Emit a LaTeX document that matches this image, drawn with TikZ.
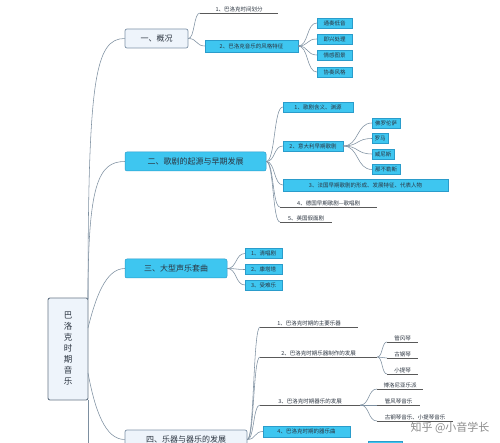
\documentclass[tikz,border=0pt]{standalone}
\usepackage{fontspec}
\setmainfont{Noto Sans CJK SC}
\usetikzlibrary{calc}
\definecolor{cyanfill}{HTML}{3EC6F0}
\definecolor{cyanline}{HTML}{2A9CCB}
\definecolor{lightfill}{HTML}{EEF4FB}
\definecolor{lightline}{HTML}{7F93A8}
\definecolor{connc}{HTML}{7D8FA0}
\definecolor{txt}{HTML}{2B3440}
\begin{document}
\begin{tikzpicture}[x=1pt,y=-1pt,
  conn/.style={draw=connc,line width=0.55pt},
  mm/.style={to path={.. controls ($(\tikztostart)!0.55!(\tikztostart -| \tikztotarget)$) and ($(\tikztotarget)!0.55!(\tikztotarget -| \tikztostart)$) .. (\tikztotarget)}},
  mainlight/.style={draw=lightline,fill=lightfill,line width=0.7pt,rounded corners=2pt,inner sep=0pt,minimum height=19pt,text=txt,font=\fontsize{8}{9}\selectfont},
  maincyan/.style={draw=cyanline,fill=cyanfill,line width=0.5pt,rounded corners=2pt,inner sep=0pt,minimum height=19pt,text=txt,font=\fontsize{8}{9}\selectfont},
  rootbox/.style={draw=lightline!80!black,fill=lightfill,line width=0.9pt,rounded corners=2pt,inner sep=0pt,text=txt,align=center,font=\fontsize{8.5}{11}\selectfont},
  cbox/.style={draw=cyanline,fill=cyanfill,line width=0.4pt,inner sep=0pt,minimum height=10pt,text=txt,font=\fontsize{5.5}{6}\selectfont},
  ulnode/.style={inner sep=1pt,anchor=south west,text=txt,font=\fontsize{5.5}{6}\selectfont,
    append after command={(\tikzlastnode.south west) edge[draw=black!65,line width=0.5pt] (\tikzlastnode.south east)}}
]
\useasboundingbox (0,0) rectangle (500,443);
\clip (0,0) rectangle (500,443);
\fill[white] (0,0) rectangle (500,443);

% root
\node[rootbox,minimum width=40pt,minimum height=102pt] (root) at (68,349) {巴\\洛\\克\\时\\期\\音\\乐};
\coordinate (rtop) at (88,299);
\coordinate (r3) at (88,328);
\coordinate (r4) at (88,373);
\coordinate (rbot) at (88,400);
\coordinate (r5) at (88,470);

% main nodes
\node[mainlight,minimum width=63pt] (n1) at (156.5,38.5) {一、概况};
\node[maincyan,minimum width=141pt] (n2) at (195.5,161.5) {二、歌剧的起源与早期发展};
\node[maincyan,minimum width=102pt] (n3) at (176,268.5) {三、大型声乐套曲};
\node[mainlight,minimum width=122pt] (n4) at (186,439.5) {四、乐器与器乐的发展};

\draw[conn] (rtop) .. controls (88,80) and (95,38.5) .. (n1.west);
\draw[conn] (rtop) .. controls (88,185) and (98,161.5) .. (n2.west);
\draw[conn] (r3) .. controls (95,300) and (105,268.5) .. (n3.west);
\draw[conn] (r4) .. controls (95,410) and (105,439.5) .. (n4.west);
\draw[conn] (rbot) -- (r5);

% branch 1
\node[ulnode,minimum width=78pt] (c11) at (200,13) {1、巴洛克时间划分};
\node[cbox,minimum width=93pt,minimum height=12pt] (c12) at (251.5,46) {2、巴洛克音乐的风格特征};
\node[cbox,minimum width=35pt] (g1) at (334.5,23) {通奏低音};
\node[cbox,minimum width=35pt] (g2) at (334.5,39) {即兴处理};
\node[cbox,minimum width=35pt] (g3) at (334.5,55) {情感图景};
\node[cbox,minimum width=35pt] (g4) at (334.5,72) {协奏风格};
\draw[conn] (n1.east) to[mm] (c11.south west);
\draw[conn] (n1.east) to[mm] (c12.west);
\foreach \g in {g1,g2,g3,g4} \draw[conn] (c12.east) to[mm] (\g.west);

% branch 2
\node[cbox,minimum width=70pt] (c21) at (318,107) {1、歌剧含义、渊源};
\node[cbox,minimum width=60pt] (c22) at (313,146) {2、意大利早期歌剧};
\node[cbox,minimum width=28pt,anchor=west] (f1) at (372,123) {佛罗伦萨};
\node[cbox,minimum width=16pt,anchor=west] (f2) at (372,138.5) {罗马};
\node[cbox,minimum width=22pt,anchor=west] (f3) at (372,154) {威尼斯};
\node[cbox,minimum width=28pt,anchor=west] (f4) at (372,169.5) {那不勒斯};
\node[cbox,minimum width=165pt,minimum height=12pt] (c23) at (365.5,185) {3、法国早期歌剧的形成、发展特征、代表人物};
\node[ulnode,minimum width=97pt] (c24) at (280,207) {4、德国早期歌剧—歌唱剧};
\node[ulnode,minimum width=52pt] (c25) at (280,222) {5、英国假面剧};
\draw[conn] (n2.east) to[mm] (c21.west);
\draw[conn] (n2.east) to[mm] (c22.west);
\draw[conn] (n2.east) to[mm] (c23.west);
\draw[conn] (n2.east) to[mm] (c24.south west);
\draw[conn] (n2.east) to[mm] (c25.south west);
\foreach \f in {f1,f2,f3,f4} \draw[conn] (c22.east) to[mm] (\f.west);

% branch 3
\node[cbox,minimum width=37pt,anchor=west] (c31) at (245,253.5) {1、清唱剧};
\node[cbox,minimum width=37pt,anchor=west] (c32) at (245,269.5) {2、康塔塔};
\node[cbox,minimum width=37pt,anchor=west] (c33) at (245,285) {3、受难乐};
\foreach \c in {c31,c32,c33} \draw[conn] (n3.east) to[mm] (\c.west);

% branch 4
\node[ulnode,minimum width=98pt] (c41) at (260,327) {1、巴洛克时期的主要乐器};
\node[ulnode,minimum width=117pt] (c42) at (260,357) {2、巴洛克时期乐器制作的发展};
\node[ulnode,minimum width=31pt] (h1) at (387,342) {管风琴};
\node[ulnode,minimum width=31pt] (h2) at (387,358) {古钢琴};
\node[ulnode,minimum width=31pt] (h3) at (387,374) {小提琴};
\node[ulnode,minimum width=100pt] (c43) at (260,405) {3、巴洛克时期器乐的发展};
\node[ulnode,minimum width=46pt] (k1) at (377,389) {博洛尼亚乐派};
\node[ulnode,minimum width=43pt] (k2) at (377,405) {管风琴音乐};
\node[ulnode,minimum width=76pt] (k3) at (377,421) {古钢琴音乐、小提琴音乐};
\node[cbox,minimum width=87pt,minimum height=11pt] (c44) at (306.5,431.5) {4、巴洛克时期的器乐曲};
\node[cbox,minimum width=34pt,minimum height=11pt,anchor=north west] (c45) at (368,441) {};
\draw[conn] (n4.east) to[mm] (c41.south west);
\draw[conn] (n4.east) to[mm] (c42.south west);
\draw[conn] (n4.east) to[mm] (c43.south west);
\draw[conn] (n4.east) to[mm] (c44.west);
\foreach \h in {h1,h2,h3} \draw[conn] (c42.south east) to[mm] (\h.south west);
\foreach \k in {k1,k2,k3} \draw[conn] (c43.south east) to[mm] (\k.south west);

% watermark text
\node[text=black!45,font=\fontsize{11}{12}\selectfont,inner sep=0pt] (wm) at (450,428) {知乎 @小音学长};
\end{tikzpicture}
\end{document}
